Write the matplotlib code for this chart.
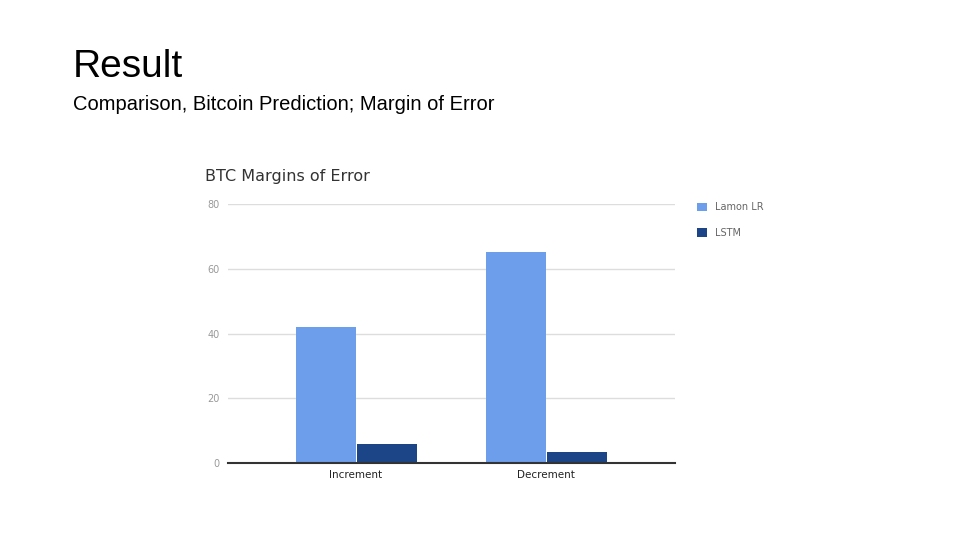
import matplotlib
matplotlib.use("Agg")
import matplotlib.pyplot as plt
import numpy as np

categories = ["Increment", "Decrement"]
lamon_lr = [42.0, 65.2]
lstm = [5.9, 3.4]
series_names = ["Lamon LR", "LSTM"]
colors = ["#6d9eeb", "#1c4587"]

fig = plt.figure(figsize=(9.6, 5.4), dpi=100)
fig.patch.set_facecolor("white")

# slide heading
fig.text(73/960, 1-67/540, "Result", fontsize=28, family="Carlito" if False else "Liberation Sans",
         va="center", ha="left")
fig.text(73/960, 1-104/540, "Comparison, Bitcoin Prediction; Margin of Error", fontsize=14.5,
         family="Liberation Sans", va="center", ha="left")

ax = fig.add_axes([228/960, 1-463/540, (675-228)/960, (463-204)/540])
x = np.arange(len(categories))
w = 0.316
ax.bar(x - w/2, lamon_lr, w, color=colors[0], label=series_names[0])
ax.bar(x + w/2 + 0.005, lstm, w, color=colors[1], label=series_names[1])
ax.set_xlim(-0.674, 1.679)
ax.set_ylim(0, 80)
ax.set_yticks([0, 20, 40, 60, 80])
ax.yaxis.grid(True, color="#dddddd", linewidth=1)
ax.set_axisbelow(True)
for s in ["top", "right", "left"]:
    ax.spines[s].set_visible(False)
ax.spines["bottom"].set_color("#333333")
ax.spines["bottom"].set_linewidth(1.5)
ax.tick_params(axis="y", length=0, labelsize=7, labelcolor="#999999", pad=6)
ax.tick_params(axis="x", length=0, labelsize=7.5, labelcolor="#222222", pad=5)
ax.set_xticks(x)
ax.set_xticklabels(categories)

fig.text(205/960, 1-176/540, "BTC Margins of Error", fontsize=11.5, color="#333333",
         va="center", ha="left")
ax.legend(loc="upper left", bbox_to_anchor=(1.03, 1.04), frameon=False, fontsize=7,
          labelcolor="#666666", handlelength=1.0, handleheight=1.0, labelspacing=1.6)

fig.savefig("out.png", dpi=100)
